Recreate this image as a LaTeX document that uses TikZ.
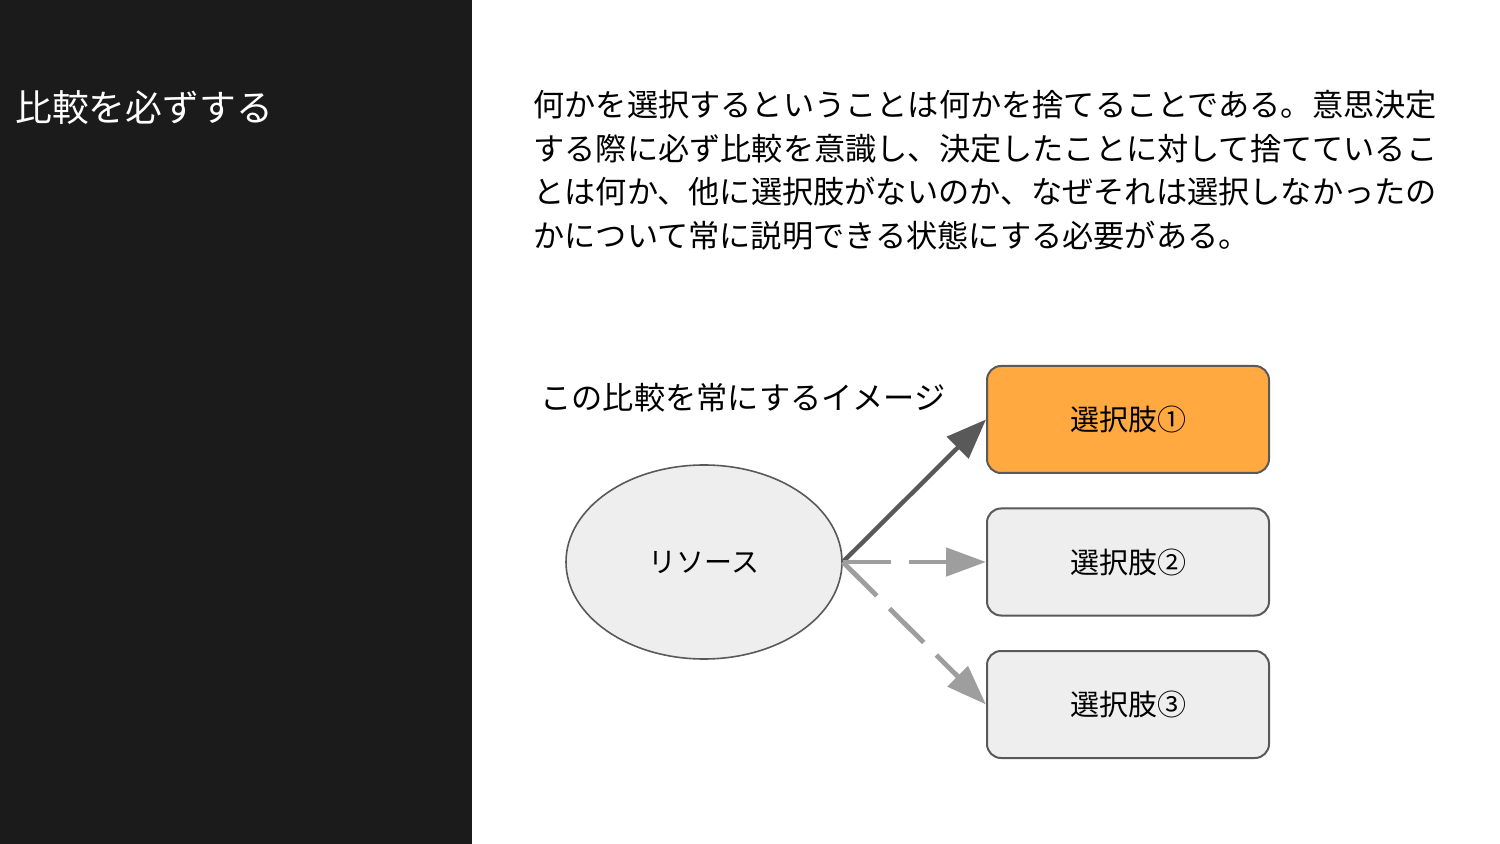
\documentclass[tikz,border=0pt]{standalone}
\usepackage{fontspec}
\setmainfont{Noto Sans CJK JP}
\usetikzlibrary{shapes.geometric,arrows.meta}
\definecolor{panel}{HTML}{1B1B1B}
\definecolor{boxorange}{HTML}{FFA940}
\definecolor{boxgray}{HTML}{EEEEEE}
\definecolor{strokegray}{HTML}{595959}
\definecolor{dashgray}{HTML}{9E9E9E}
\tikzset{
  choicebox/.style={draw=strokegray, line width=1pt, rounded corners=7pt, minimum width=141pt, minimum height=53.5pt, inner sep=0pt, font=\fontsize{14.5pt}{17pt}\selectfont},
  resource/.style={ellipse, draw=strokegray, line width=0.8pt, fill=boxgray, minimum width=138pt, minimum height=97pt, inner sep=0pt, font=\fontsize{14pt}{17pt}\selectfont},
  bodytext/.style={anchor=base west, inner sep=0pt, font=\fontsize{15.6pt}{20pt}\selectfont, text=black},
  solidarrow/.style={draw=strokegray, line width=2.2pt, -{Triangle[length=20pt,width=15pt]}},
  dasharrow/.style={draw=dashgray, line width=2.4pt, dash pattern=on 24pt off 9pt, -{Triangle[length=20pt,width=14pt]}}
}
\begin{document}
\begin{tikzpicture}[x=0.5pt,y=-0.5pt]
\useasboundingbox (0,0) rectangle (1500,844);
\fill[white] (0,0) rectangle (1500,844);
\fill[panel] (0,0) rectangle (472,844);
\node[anchor=base west, inner sep=0pt, text=white, font=\fontsize{18.4pt}{22pt}\selectfont] (title) at (15,122) {比較を必ずする};
\node[bodytext] (l1) at (533,117) {何かを選択するということは何かを捨てることである。意思決定};
\node[bodytext] (l2) at (533,160.5) {する際に必ず比較を意識し、決定したことに対して捨てているこ};
\node[bodytext] (l3) at (533,204) {とは何か、他に選択肢がないのか、なぜそれは選択しなかったの};
\node[bodytext] (l4) at (533,247.5) {かについて常に説明できる状態にする必要がある。};
\node[bodytext] (lab) at (540,410) {この比較を常にするイメージ};
\node[resource] (res) at (704,562) {リソース};
\node[choicebox, fill=boxorange] (c1) at (1128,419.5) {選択肢①};
\node[choicebox, fill=boxgray] (c2) at (1128,562) {選択肢②};
\node[choicebox, fill=boxgray] (c3) at (1128,704.5) {選択肢③};
\draw[solidarrow] (res.east) -- (c1.west);
\draw[dasharrow] (res.east) -- (c2.west);
\draw[dasharrow] (res.east) -- (c3.west);
\end{tikzpicture}
\end{document}
